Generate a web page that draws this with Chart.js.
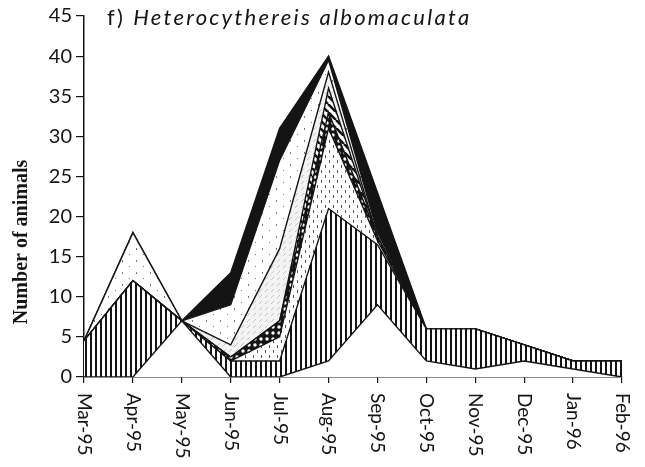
<!DOCTYPE html>
<html>
<head>
<meta charset="utf-8">
<script src="https://cdn.jsdelivr.net/npm/chart.js@4/dist/chart.umd.min.js"></script>
<style>
  html, body { margin: 0; padding: 0; background: #fff; }
  #wrap { width: 645px; height: 467px; }
</style>
</head>
<body>
<div id="wrap"><canvas id="chart" width="645" height="467"></canvas></div>
<script>
// months on the x axis
const months = ["Mar-95", "Apr-95", "May-95", "Jun-95", "Jul-95", "Aug-95",
                "Sep-95", "Oct-95", "Nov-95", "Dec-95", "Jan-96", "Feb-96"];

// stacked layers, bottom to top
const bottomWhite   = [0, 0, 7, 0, 0, 2, 9, 2, 1, 2, 1, 0];
const verticalHatch = [4.5, 12, 0, 2, 2, 19, 7.5, 4, 5, 2, 1, 2];
const shortDashes   = [0, 0, 0, 0, 3, 10, 0.5, 0, 0, 0, 0, 0];
const chainDots     = [0, 0, 0, 0.5, 2, 2, 0.5, 0, 0, 0, 0, 0];
const diagStripes   = [0, 0, 0, 0, 0, 3, 0, 0, 0, 0, 0, 0];
const lightHatch    = [0, 0, 0, 1.5, 9, 2, 0, 0, 0, 0, 0, 0];
const sparseDots    = [0, 6, 0, 5, 11, 1.5, 0.5, 0, 0, 0, 0, 0];
const solidBlack    = [0, 0, 0, 4, 4, 0.5, 5, 0, 0, 0, 0, 0];

const yMax = 45, yStep = 5;
const INK = "#141414";

function makePattern(w, h, draw) {
    const c = document.createElement("canvas");
    c.width = w; c.height = h;
    const g = c.getContext("2d");
    draw(g, w, h);
    return g.createPattern(c, "repeat");
}

const patVertical = makePattern(5, 4, (g, w, h) => {
    g.fillStyle = "#fff"; g.fillRect(0, 0, w, h);
    g.fillStyle = INK; g.fillRect(0, 0, 2, h);
});
const patDashes = makePattern(8, 10, (g, w, h) => {
    g.fillStyle = "#fff"; g.fillRect(0, 0, w, h);
    g.fillStyle = "#555";
    g.fillRect(1, 0, 1, 3);
    g.fillRect(5, 5, 1, 3);
});
const patChain = makePattern(6, 6, (g, w, h) => {
    g.fillStyle = INK; g.fillRect(0, 0, w, h);
    g.fillStyle = "#fff";
    g.beginPath(); g.arc(3, 3, 1.7, 0, Math.PI * 2); g.fill();
});
const patDiag = makePattern(8, 8, (g, w, h) => {
    g.fillStyle = "#fff"; g.fillRect(0, 0, w, h);
    g.strokeStyle = INK; g.lineWidth = 2.6;
    for (const k of [-8, 0, 8]) {
        g.beginPath(); g.moveTo(k, 0); g.lineTo(k + 8, 8); g.stroke();
    }
});
const patLight = makePattern(6, 6, (g, w, h) => {
    g.fillStyle = "#f3f3f3"; g.fillRect(0, 0, w, h);
    g.strokeStyle = "#c4c4c4"; g.lineWidth = 1;
    g.beginPath(); g.moveTo(1, 4); g.lineTo(4, 1); g.stroke();
});
const patSparse = makePattern(14, 12, (g, w, h) => {
    g.fillStyle = "#fff"; g.fillRect(0, 0, w, h);
    g.fillStyle = "#777";
    g.fillRect(3, 2, 1, 1);
    g.fillRect(10, 8, 1, 2);
});

function layer(data, bg, first) {
    return {
        data: data,
        backgroundColor: bg,
        borderColor: INK,
        borderWidth: 1.4,
        pointRadius: 0,
        tension: 0,
        fill: first ? "origin" : "-1"
    };
}

const decorations = {
    id: "decorations",
    afterDraw(chart) {
        const ctx = chart.ctx;
        const xs = chart.scales.x;
        ctx.save();
        ctx.fillStyle = INK;
        // x tick labels, reading downward
        ctx.font = '19px "Lato"';
        ctx.textAlign = "left";
        ctx.textBaseline = "middle";
        months.forEach((m, i) => {
            const x = xs.getPixelForValue(i);
            ctx.save();
            ctx.translate(x, 393);
            ctx.rotate(Math.PI / 2);
            ctx.fillText(m, 0, 0);
            ctx.restore();
        });
        // y axis title
        ctx.save();
        ctx.translate(22, 242);
        ctx.rotate(-Math.PI / 2);
        ctx.font = 'bold 20px "Liberation Serif"';
        ctx.textAlign = "center";
        ctx.fillText("Number of animals", 0, 0);
        ctx.restore();
        // panel title, spaced out like the original
        ctx.textBaseline = "alphabetic";
        ctx.letterSpacing = "2.3px";
        ctx.font = '22px "Lato"';
        ctx.fillText("f) ", 107, 25);
        const w = ctx.measureText("f) ").width;
        ctx.font = 'italic 22px "Lato"';
        ctx.fillText("Heterocythereis albomaculata", 107 + w, 25);
        ctx.restore();
    }
};

new Chart(document.getElementById("chart"), {
    type: "line",
    data: {
        labels: months,
        datasets: [
            layer(bottomWhite, "#fff", true),
            layer(verticalHatch, patVertical),
            layer(shortDashes, patDashes),
            layer(chainDots, patChain),
            layer(diagStripes, patDiag),
            layer(lightHatch, patLight),
            layer(sparseDots, patSparse),
            layer(solidBlack, INK)
        ]
    },
    options: {
        responsive: false,
        animation: false,
        layout: { padding: { top: 16, right: 23, left: 0, bottom: 0 } },
        plugins: { legend: { display: false }, tooltip: { enabled: false } },
        scales: {
            x: {
                offset: false,
                grid: { drawOnChartArea: false, tickLength: 6, color: INK, lineWidth: 1.2 },
                border: { color: INK, width: 1.5 },
                ticks: { display: false },
                afterFit: s => { s.height = 90; }
            },
            y: {
                stacked: true,
                min: 0,
                max: yMax,
                ticks: { stepSize: yStep, color: INK, font: { family: "Lato", size: 20 }, padding: 4 },
                grid: { drawOnChartArea: false, tickLength: 8, color: INK, lineWidth: 1.2 },
                border: { color: INK, width: 1.5 },
                afterFit: s => { s.width = 84; }
            }
        }
    },
    plugins: [decorations]
});
</script>
</body>
</html>
